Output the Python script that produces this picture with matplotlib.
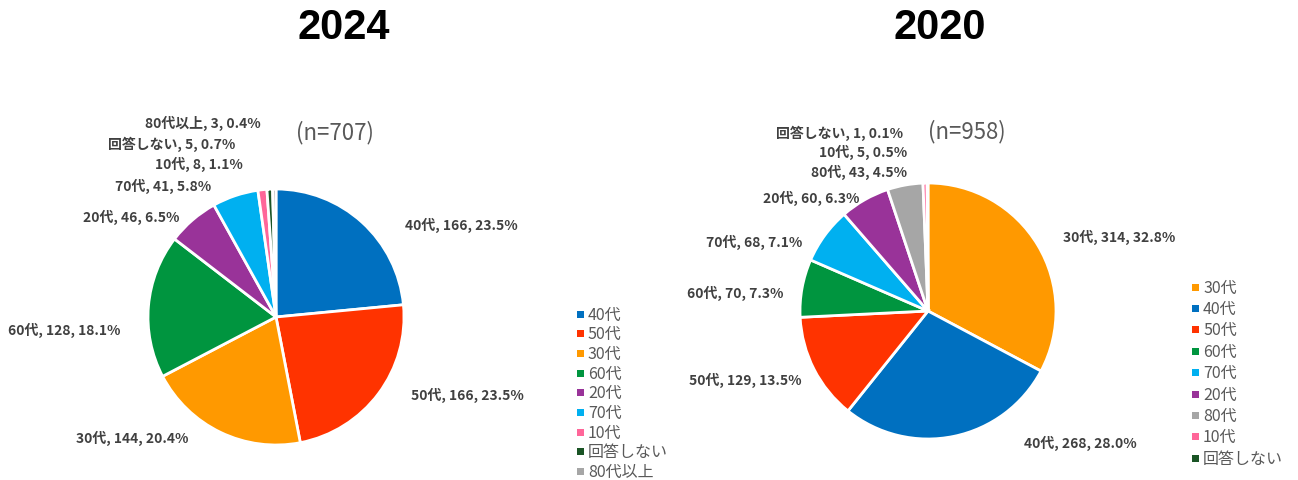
import matplotlib
matplotlib.use("Agg")
import matplotlib.pyplot as plt
from matplotlib.patches import Rectangle

plt.rcParams['font.family'] = ['Noto Sans CJK JP', 'DejaVu Sans']

# ---- data ----
cats_2024 = ["40代", "50代", "30代", "60代", "20代", "70代", "10代", "回答しない", "80代以上"]
vals_2024 = [166, 166, 144, 128, 46, 41, 8, 5, 3]
pcts_2024 = ["23.5%", "23.5%", "20.4%", "18.1%", "6.5%", "5.8%", "1.1%", "0.7%", "0.4%"]

cats_2020 = ["30代", "40代", "50代", "60代", "70代", "20代", "80代", "10代", "回答しない"]
vals_2020 = [314, 268, 129, 70, 68, 60, 43, 5, 1]
pcts_2020 = ["32.8%", "28.0%", "13.5%", "7.3%", "7.1%", "6.3%", "4.5%", "0.5%", "0.1%"]

titles = ["2024", "2020"]
n_labels = ["(n=707)", "(n=958)"]

# ---- styles ----
colors = {
    "40代": "#0070C0", "50代": "#FF3300", "30代": "#FF9900", "60代": "#00953F",
    "20代": "#993399", "70代": "#00B0F0", "10代": "#FF6699", "回答しない": "#1A5425",
    "80代以上": "#A6A6A6", "80代": "#A6A6A6",
}

W, H = 1298, 481
R = 128.0  # pie radius in px
fig = plt.figure(figsize=(W / 100, H / 100), dpi=100)

# label centers in pixel coords (x, y from top)
label_pos_2024 = [(461, 225), (467, 395), (132, 438), (64, 330), (131, 217),
                  (163, 186), (199, 164), (172, 144), (203, 123)]
label_pos_2020 = [(1119, 237), (1080, 443), (745, 380), (735, 293), (754, 242),
                  (811, 198), (859, 172), (863, 152), (840, 133)]


def draw(panel_px, center_px, cats, vals, pcts, label_pos, title, title_px, nlab, n_px,
         legend_px, legend_step):
    x0, x1 = panel_px
    cx, cy = center_px
    ax = fig.add_axes([x0 / W, 0, (x1 - x0) / W, 1])
    cols = [colors[c] for c in cats]
    ax.pie(vals, colors=cols, startangle=90, counterclock=False, radius=1.0,
           wedgeprops=dict(edgecolor='white', linewidth=2), frame=False)
    ax.set_xlim((x0 - cx) / R, (x1 - cx) / R)
    ax.set_ylim((cy - H) / R, cy / R)
    ax.set_aspect('auto')
    ax.axis('off')

    def to_data(px, py):
        return (px - cx) / R, (cy - py) / R

    for c, v, p, (px, py) in zip(cats, vals, pcts, label_pos):
        dx, dy = to_data(px, py)
        ax.text(dx, dy, f"{c}, {v}, {p}", ha='center', va='center',
                fontsize=10, fontweight='bold', color='#404040')
    tx, ty = to_data(*title_px)
    ax.text(tx, ty, title, ha='center', va='center', fontsize=30, fontweight='bold',
            family=['Liberation Sans', 'DejaVu Sans'], color='black')
    nx, ny = to_data(*n_px)
    ax.text(nx, ny, nlab, ha='center', va='center', fontsize=16, color='#595959')

    lx, ly = legend_px
    for i, c in enumerate(cats):
        mx, my = to_data(lx, ly + i * legend_step)
        s = 7 / R
        ax.add_patch(Rectangle((mx - s / 2, my - s / 2), s, s, facecolor=colors[c],
                               edgecolor='none', clip_on=False))
        ax.text(mx + 8 / R, my, c, ha='left', va='center', fontsize=11.5, color='#595959')


draw((0, 649), (276, 318), cats_2024, vals_2024, pcts_2024, label_pos_2024,
     titles[0], (344, 28), n_labels[0], (335, 133), (580, 315), 19.7)
draw((649, 1298), (928, 312), cats_2020, vals_2020, pcts_2020, label_pos_2020,
     titles[1], (940, 28), n_labels[1], (967, 132), (1195, 288), 21.4)

fig.savefig("out.png", dpi=100)
